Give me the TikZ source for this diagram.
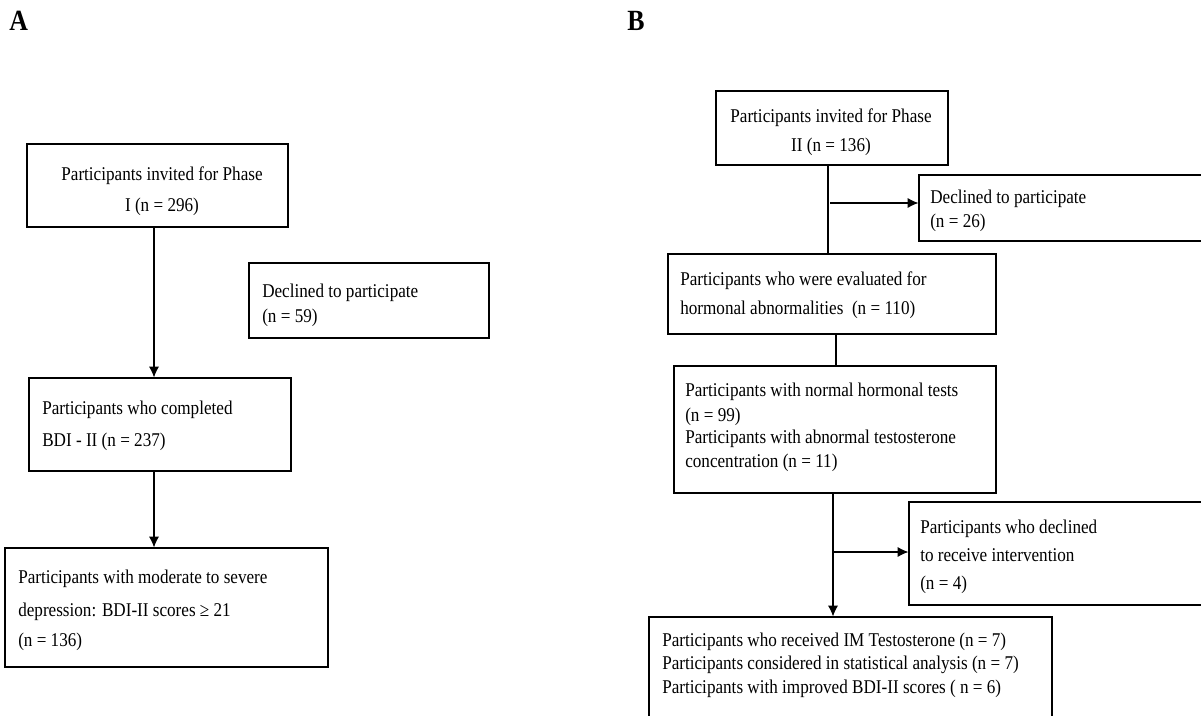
\documentclass[tikz,border=0pt]{standalone}
\usepackage{fontspec}
\setmainfont{Liberation Serif}[FakeStretch=0.88]
\usepackage{tikz}
\usetikzlibrary{arrows.meta}
\usetikzlibrary{fit}

\begin{document}
\begin{tikzpicture}[x=0.75pt,y=-0.75pt,>={Latex[length=8pt,width=7.5pt]},
    box/.style={draw,line width=0.9pt,inner sep=0pt},
    txt/.style={anchor=base west,inner sep=0pt,font=\fontsize{14.6}{17}\selectfont},
    ctxt/.style={anchor=base,inner sep=0pt,font=\fontsize{14.6}{17}\selectfont},
    arr/.style={->,line width=0.8pt},
    lin/.style={line width=0.8pt}]
  \useasboundingbox (0,0) rectangle (1201,716);
  \clip (0,0) rectangle (1201,716);

  % panel A
  \node[anchor=base west,inner sep=0pt,font=\bfseries\fontsize{22}{26}\selectfont] (labA) at (9,31) {A};
  \node[box,fit={(27,144) (288,227)}] (a1) {};
  \node[box,fit={(249,263) (489,338)}] (a2) {};
  \node[box,fit={(29,378) (291,471)}] (a3) {};
  \node[box,fit={(5,548) (328,667)}] (a4) {};

  \node[ctxt] (a1t1) at (162,181) {Participants invited for Phase};
  \node[ctxt] (a1t2) at (162,212) {I (n = 296)};
  \node[txt] (a2t1) at (262,297) {Declined to participate};
  \node[txt] (a2t2) at (262,322) {(n = 59)};
  \node[txt] (a3t1) at (42,414) {Participants who completed};
  \node[txt] (a3t2) at (42,446) {BDI - II (n = 237)};
  \node[txt] (a4t1) at (18,583) {Participants with moderate to severe};
  \node[txt] (a4t2) at (18,616) {depression: BDI-II scores ≥ 21};
  \node[txt] (a4t3) at (18,646) {(n = 136)};

  \coordinate (colA) at (154,0);
  \draw[arr] (a1.south -| colA) -- (a3.north -| colA);
  \draw[arr] (a3.south -| colA) -- (a4.north -| colA);

  % panel B
  \node[anchor=base west,inner sep=0pt,font=\bfseries\fontsize{22}{26}\selectfont] (labB) at (627,31) {B};
  \node[box,fit={(716,91) (948,165)}] (b1) {};
  \node[box,fit={(919,175) (1215,241)}] (b2) {};
  \node[box,fit={(668,254) (996,334)}] (b3) {};
  \node[box,fit={(674,366) (996,493)}] (b4) {};
  \node[box,fit={(909,502) (1215,605)}] (b5) {};
  \node[box,fit={(649,617) (1052,730)}] (b6) {};

  \node[ctxt] (b1t1) at (831,123) {Participants invited for Phase};
  \node[ctxt] (b1t2) at (831,152) {II (n = 136)};
  \node[txt] (b2t1) at (930,204) {Declined to participate};
  \node[txt] (b2t2) at (930,228) {(n = 26)};
  \node[txt] (b3t1) at (680,286) {Participants who were evaluated for};
  \node[txt] (b3t2) at (680,314) {hormonal abnormalities\ \ (n = 110)};
  \node[txt] (b4t1) at (685,396) {Participants with normal hormonal tests};
  \node[txt] (b4t2) at (685,421) {(n = 99)};
  \node[txt] (b4t3) at (685,443) {Participants with abnormal testosterone};
  \node[txt] (b4t4) at (685,467) {concentration (n = 11)};
  \node[txt] (b5t1) at (920,533) {Participants who declined};
  \node[txt] (b5t2) at (920,561) {to receive intervention};
  \node[txt] (b5t3) at (920,589) {(n = 4)};
  \node[txt] (b6t1) at (662,646) {Participants who received IM Testosterone (n = 7)};
  \node[txt] (b6t2) at (662,669) {Participants considered in statistical analysis (n = 7)};
  \node[txt] (b6t3) at (662,693) {Participants with improved BDI-II scores ( n = 6)};

  \coordinate (colB1) at (828,0);
  \coordinate (colB2) at (836,0);
  \coordinate (colB3) at (833,0);
  \coordinate (j1) at (830,203);
  \coordinate (j2) at (833,552);
  \draw[lin] (b1.south -| colB1) -- (b3.north -| colB1);
  \draw[arr] (j1) -- (b2.west |- j1);
  \draw[lin] (b3.south -| colB2) -- (b4.north -| colB2);
  \draw[arr] (b4.south -| colB3) -- (b6.north -| colB3);
  \draw[arr] (j2) -- (b5.west |- j2);
\end{tikzpicture}
\end{document}
